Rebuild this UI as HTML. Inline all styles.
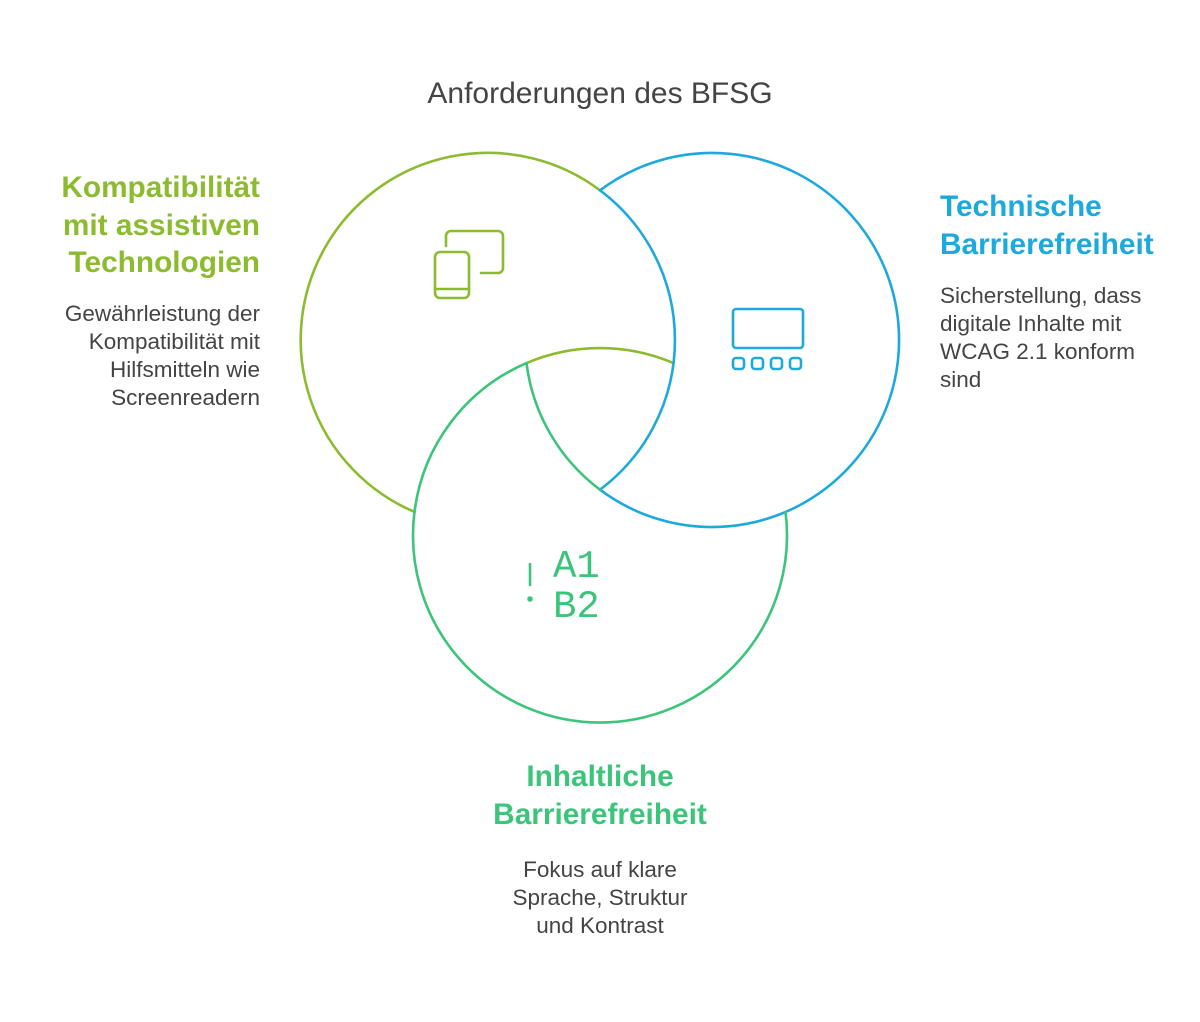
<!DOCTYPE html>
<html><head><meta charset="utf-8"><style>
body{margin:0;background:#fff;width:1200px;height:1022px;position:relative;font-family:"Liberation Sans",sans-serif;overflow:hidden}
.t{position:absolute;white-space:nowrap}
.h{font-weight:bold;font-size:29.8px;line-height:37.5px}
.b{font-size:22.5px;line-height:28px;color:#444}
</style></head><body>
<div class="t" style="left:0;width:1200px;text-align:center;top:77px;font-size:30px;color:#444">Anforderungen des BFSG</div>
<div class="t h" style="right:940px;top:169px;text-align:right;color:#8dbb2f">Kompatibilität<br>mit assistiven<br>Technologien</div>
<div class="t b" style="right:940px;top:300px;text-align:right">Gewährleistung der<br>Kompatibilität mit<br>Hilfsmitteln wie<br>Screenreadern</div>
<div class="t h" style="left:940px;top:188px;color:#1ea9dc">Technische<br>Barrierefreiheit</div>
<div class="t b" style="left:940px;top:282px">Sicherstellung, dass<br>digitale Inhalte mit<br>WCAG 2.1 konform<br>sind</div>
<div class="t h" style="left:0;width:1200px;text-align:center;top:758px;color:#3cc47a">Inhaltliche<br>Barrierefreiheit</div>
<div class="t b" style="left:0;width:1200px;text-align:center;top:856px">Fokus auf klare<br>Sprache, Struktur<br>und Kontrast</div>
<svg width="1200" height="1022" style="position:absolute;left:0;top:0" fill="none" stroke-width="2.6" stroke-linecap="round" stroke-linejoin="round">
<g stroke="#8dbb2f">
<path d="M414.5,511.9 A187,187 0 1 1 600,190.3"/>
<path d="M526.5,363.1 A187,187 0 0 1 673.5,363.1"/>
<rect x="435" y="252" width="34" height="46" rx="5"/>
<path d="M435,289 H469 M446,246 V236 a5,5 0 0 1 5,-5 H498 a5,5 0 0 1 5,5 V268 a5,5 0 0 1 -5,5 H481"/>
</g>
<g stroke="#1ea9dc">
<path d="M600,190.3 A187,187 0 0 1 600,489.7"/>
<path d="M600,489.7 A187,187 0 1 0 600,190.3"/>
<rect x="733" y="309" width="70" height="39" rx="3"/>
<rect x="733" y="358" width="11" height="11" rx="3"/>
<rect x="752" y="358" width="11" height="11" rx="3"/>
<rect x="771" y="358" width="11" height="11" rx="3"/>
<rect x="790" y="358" width="11" height="11" rx="3"/>
</g>
<g stroke="#3cc47a">
<path d="M414.5,511.9 A187,187 0 1 0 785.5,511.9"/>
<path d="M414.5,511.9 A187,187 0 0 1 526.5,363.1"/>
<path d="M526.5,363.1 A187,187 0 0 0 600,489.7"/>
<path d="M530,564 V585"/>
<circle cx="530" cy="599" r="1.5" fill="#3cc47a"/>
</g>
<text x="553" y="577" font-family="Liberation Mono,monospace" font-size="39" fill="#3cc47a">A1</text>
<text x="553" y="617" font-family="Liberation Mono,monospace" font-size="39" fill="#3cc47a">B2</text>
</svg>
</body></html>
